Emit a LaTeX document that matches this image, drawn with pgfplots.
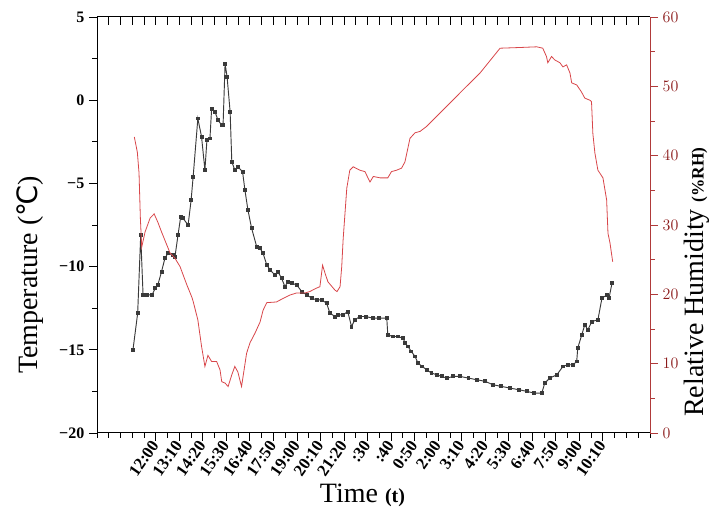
\documentclass[border=0pt]{standalone}
\usepackage{fontspec}
\setmainfont{Liberation Serif}
\newfontfamily\dejavu{DejaVu Sans}
\usepackage{pgfplots}
\pgfplotsset{compat=1.18}
\definecolor{tline}{HTML}{3A3A3A}
\definecolor{rhline}{HTML}{D8464A}
\definecolor{raxis}{HTML}{B03A3A}
\definecolor{rlab}{HTML}{8B1A1A}
\begin{document}
\begin{tikzpicture}
\begin{axis}[name=a1, scale only axis, width=414.75pt, height=312pt,
  xmin=-175, xmax=1470, ymin=-20, ymax=5,
  axis x line*=bottom, axis y line*=left,
  axis line style={-, black, line width=0.75pt},
  xtick={0,70,...,1330}, minor xtick={-175,-140,...,1470},
  xticklabels={12:00,13:10,14:20,15:30,16:40,17:50,19:00,20:10,21:20,:30,:40,0:50,2:00,3:10,4:20,5:30,6:40,7:50,9:00,10:10},
  xticklabel style={font=\fontsize{12.5}{13}\selectfont\bfseries, rotate=55, anchor=east, inner sep=1pt},
  ytick={-20,-15,-10,-5,0,5}, yticklabels={−20,−15,−10,−5,0,5},
  minor ytick={-17.5,-12.5,-7.5,-2.5,2.5},
  yticklabel style={font=\fontsize{12}{13}\selectfont\bfseries},
  xtick align=outside, ytick align=outside,
  major tick length=6pt, minor tick length=3.5pt,
  tick style={black, line width=0.7pt},
  xlabel={Time {\fontsize{15}{15}\selectfont\bfseries (t)}},
  xlabel style={font=\fontsize{21}{24}\selectfont, at={(axis description cs:0.48,-0.149)}, anchor=center},
  ylabel={Temperature ({\dejavu ℃})},
  ylabel style={font=\fontsize{21}{24}\selectfont, at={(axis description cs:-0.121,0.38)}, anchor=center},
]
\addplot[tline, line width=0.7pt, mark=square*, mark size=1.1pt, mark options={fill=tline}] coordinates {
(-68,-15.0)(-54,-12.8)(-45,-8.1)(-38,-11.7)(-25,-11.7)(-11,-11.7)(-2,-11.3)(6,-11.1)(17,-10.3)(27,-9.5)(36,-9.2)(51,-9.3)(57,-9.4)(66,-8.1)(74,-7.0)(81,-7.1)(96,-7.5)(105,-6.0)(111,-4.6)(125,-1.1)(136,-2.2)(146,-4.2)(152,-2.4)(161,-2.3)(166,-0.5)(176,-0.7)(185,-1.2)(196,-1.5)(200,-1.5)(206,2.2)(212,1.4)(221,-0.7)(226,-3.7)(235,-4.2)(244,-4.0)(258,-4.3)(265,-5.4)(274,-6.6)(285,-7.7)(300,-8.8)(310,-8.9)(319,-9.2)(330,-9.9)(340,-10.2)(354,-10.5)(363,-10.3)(374,-10.7)(384,-11.2)(393,-10.9)(405,-11.0)(419,-11.1)(434,-11.5)(449,-11.7)(464,-11.9)(478,-12.0)(493,-12.0)(508,-12.2)(518,-12.8)(533,-13.0)(542,-12.9)(557,-12.9)(571,-12.7)(582,-13.6)(592,-13.2)(607,-13.0)(625,-13.0)(645,-13.1)(665,-13.1)(687,-13.1)(690,-14.1)(705,-14.2)(720,-14.2)(735,-14.3)(742,-14.6)(750,-14.8)(760,-15.1)(771,-15.4)(780,-15.8)(792,-16.0)(806,-16.2)(820,-16.4)(836,-16.5)(850,-16.6)(866,-16.7)(885,-16.6)(905,-16.6)(930,-16.7)(955,-16.8)(980,-16.9)(1003,-17.1)(1028,-17.2)(1053,-17.3)(1080,-17.4)(1104,-17.5)(1125,-17.6)(1148,-17.6)(1157,-17.0)(1172,-16.7)(1193,-16.5)(1211,-16.0)(1225,-15.9)(1241,-15.9)(1252,-15.7)(1255,-14.9)(1267,-14.1)(1276,-13.5)(1285,-13.8)(1297,-13.3)(1315,-13.2)(1327,-11.9)(1342,-11.7)(1348,-11.9)(1357,-11.0)
};
\end{axis}
\begin{axis}[scale only axis, width=414.75pt, height=312pt,
  xmin=-175, xmax=1470, ymin=0, ymax=60,
  axis x line*=top, axis y line*=right,
  x axis line style={-, black, line width=0.75pt},
  y axis line style={-, raxis, line width=0.75pt},
  xtick={-175,-140,...,1470}, xticklabels={},
  xtick align=inside, ytick align=outside,
  ytick={0,10,...,60}, minor ytick={5,15,...,55},
  yticklabel style={font=\fontsize{12}{13}\selectfont\bfseries, text=rlab},
  major tick length=6pt, minor tick length=3.5pt,
  x tick style={black, line width=0.7pt},
  y tick style={raxis, line width=0.7pt},
  ylabel={Relative Humidity {\fontsize{13}{13}\selectfont\bfseries (\%RH)}},
  ylabel style={font=\fontsize{21}{24}\selectfont, at={(axis description cs:1.085,0.363)}, anchor=center},
]
\addplot[rhline, line width=0.6pt] coordinates {
(-64,42.7)(-55,40.5)(-50,37.5)(-46,31.0)(-42,26.8)(-32,29.0)(-17,31.0)(-5,31.6)(6,30.4)(17,29.0)(27,27.8)(42,26.0)(57,25.2)(72,24.0)(92,21.4)(107,19.6)(111,19.0)(125,16.3)(136,12.5)(146,9.6)(155,11.2)(166,10.3)(181,10.3)(191,9.1)(196,7.4)(206,7.2)(215,6.7)(226,8.4)(235,9.6)(244,8.8)(255,6.7)(270,11.5)(280,13.0)(295,14.4)(310,16.0)(319,17.7)(330,18.8)(359,18.9)(378,19.4)(399,19.9)(419,20.2)(444,20.2)(458,20.4)(478,20.9)(488,21.1)(496,24.2)(503,23.1)(512,21.8)(533,20.6)(539,20.4)(548,21.1)(553,24.0)(557,27.8)(568,35.3)(577,37.9)(587,38.4)(607,37.9)(622,37.7)(637,36.2)(647,37.0)(667,36.8)(690,36.8)(701,37.7)(716,37.9)(731,38.2)(741,39.1)(756,42.5)(771,43.3)(786,43.5)(805,44.2)(865,47.1)(914,49.5)(964,51.9)(1024,55.5)(1083,55.6)(1133,55.7)(1151,55.5)(1162,54.3)(1166,53.4)(1177,54.3)(1187,53.8)(1202,53.4)(1211,52.8)(1222,53.1)(1232,51.9)(1237,50.5)(1252,50.2)(1266,49.2)(1276,48.3)(1291,48.0)(1296,47.8)(1300,43.2)(1306,40.4)(1315,37.9)(1330,36.8)(1341,33.6)(1345,28.8)(1351,27.4)(1359,24.7)
};
\end{axis}
\pgfresetboundingbox
\path ([shift={(-72.75pt,-62.25pt)}]a1.south west) rectangle ([shift={(49.5pt,12.75pt)}]a1.north east);
\end{tikzpicture}
\end{document}
